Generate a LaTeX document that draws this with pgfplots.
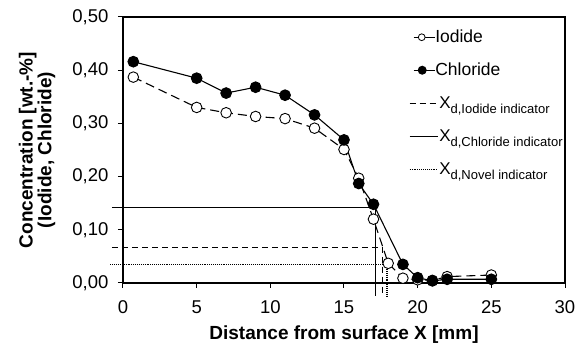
\documentclass[border=0pt]{standalone}
\usepackage{fontspec}
\setmainfont{Liberation Sans}
\usepackage{pgfplots}
\pgfplotsset{compat=1.18}
\newcommand{\LE}[1]{\rule[-4.5pt]{0pt}{17pt}\smash{#1}}
\newcommand{\Xd}[1]{\LE{{\fontsize{17}{17}\selectfont X}\raisebox{-5pt}{\fontsize{13}{13}\selectfont #1}}}
\begin{document}
\begin{tikzpicture}
\begin{axis}[
  scale only axis, width=442pt, height=266pt,
  xmin=0, xmax=30, ymin=0, ymax=0.5,
  xtick={0,5,10,15,20,25,30}, ytick={0,0.1,0.2,0.3,0.4,0.5},
  tick align=outside, xtick pos=bottom, ytick pos=left,
  major tick length=5pt,
  axis line style={line width=1.5pt},
  tick style={line width=1pt, black},
  clip=false,
  /pgf/number format/assume math mode=true,
  yticklabel style={xshift=-6pt, /pgf/number format/.cd, fixed, fixed zerofill, precision=2, use comma},
  xticklabel style={yshift=-9pt},
  ticklabel style={font=\fontsize{18.5}{18.5}\selectfont},
  xlabel={Distance from surface X [mm]},
  ylabel={Concentration [wt.-\%]\\(Iodide, Chloride)},
  label style={font=\bfseries\fontsize{19}{16.5}\selectfont, align=center},
  xlabel style={at={(axis description cs:0.5,0)}, anchor=base, yshift=-57pt},
  ylabel style={at={(axis description cs:-0.1946,0.5)}, anchor=center},
  legend style={draw=none, fill=none, inner sep=0pt, at={(rel axis cs:0.647,0.951)}, anchor=north west,
    font=\fontsize{17.5}{17.5}\selectfont, row sep=19pt,
    nodes={inner xsep=1pt, inner ysep=0pt}},
  legend cell align=left,
]
\addplot[black, line width=1.1pt, dash pattern=on 9pt off 5pt, mark=*, mark size=5.3pt,
  mark options={solid, fill=white, line width=0.9pt},
  legend image code/.code={\path (0pt,0pt) (28pt,0pt);
    \draw[black, solid, line width=0.8pt] (4pt,0pt) -- (25pt,0pt);
    \draw[black, solid, line width=0.8pt, fill=white] (12pt,0pt) circle[radius=3.4pt];}]
coordinates {(0.7,0.387)(5,0.330)(7,0.320)(9,0.313)(11,0.309)(13,0.291)(15,0.251)(16,0.197)(17,0.120)(18,0.037)(19,0.009)(20,0.006)(21,0.005)(22,0.012)(25,0.015)};
\addlegendentry{\LE{\hspace{-4pt}Iodide}}
\addplot[black, line width=1.1pt, mark=*, mark size=5.3pt, mark options={fill=black},
  legend image code/.code={\path (0pt,0pt) (28pt,0pt);
    \draw[black, line width=0.8pt] (4pt,0pt) -- (25pt,0pt);
    \fill[black] (12.5pt,0pt) circle[radius=3.9pt];}]
coordinates {(0.7,0.416)(5,0.385)(7,0.357)(9,0.368)(11,0.353)(13,0.316)(15,0.269)(16,0.187)(17,0.148)(19,0.035)(20,0.010)(21,0.004)(22,0.007)(25,0.007)};
\addlegendentry{\LE{\hspace{-4pt}Chloride}}
\addplot[black, line width=1pt, dash pattern=on 6pt off 4pt,
  legend image code/.code={\draw[black, line width=1pt, dash pattern=on 6pt off 4pt] (0pt,0pt) -- (28pt,0pt);}]
coordinates {(-0.75,0.067)(17.62,0.067)(17.62,-0.025)};
\addlegendentry{\Xd{d,Iodide indicator}}
\addplot[black, line width=1pt,
  legend image code/.code={\draw[black, line width=1pt] (0pt,0pt) -- (28pt,0pt);}]
coordinates {(-0.75,0.142)(17.13,0.142)(17.13,-0.025)};
\addlegendentry{\Xd{d,Chloride indicator}}
\addplot[black, line width=1.1pt, dash pattern=on 1pt off 0.9pt,
  legend image code/.code={\draw[black, line width=1pt, dash pattern=on 1pt off 0.9pt] (0pt,0pt) -- (28pt,0pt);}]
coordinates {(-0.85,0.035)(17.92,0.035)(17.92,-0.025)};
\addlegendentry{\Xd{d,Novel indicator}}
\end{axis}
\pgfresetboundingbox
\path (current axis.south west) ++(-123pt,-62pt) rectangle ++(576pt,345pt);
\end{tikzpicture}
\end{document}
